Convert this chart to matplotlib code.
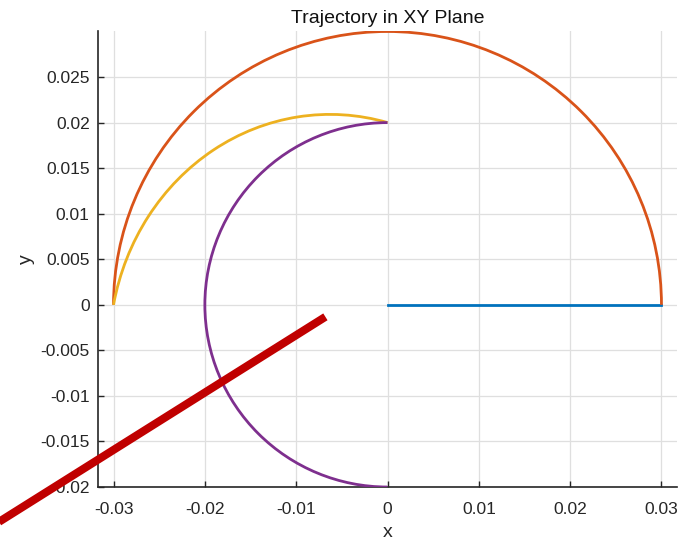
import matplotlib
matplotlib.use('Agg')
import matplotlib.pyplot as plt
from matplotlib.patches import Arc
from matplotlib.ticker import FormatStrFormatter

plt.rcParams['font.family'] = ['Liberation Sans', 'DejaVu Sans']

# straight segment (blue)
line_x = [0.0, 0.03]
line_y = [0.0, 0.0]

# arcs: centre, x/y half-axes, start/end angle (deg, seen from the centre)
orange_center = (0.0, 0.0)
orange_axes = (0.03, 0.03)
orange_angles = (0, 180)

yellow_center = (-0.0063, -0.005)
yellow_axes = (0.024155, 0.0259)
yellow_angles = (75.86, 168.09)

purple_center = (0.0, 0.0)
purple_axes = (0.02, 0.02)
purple_angles = (90, 270)

# red annotation stroke drawn over the chart
red_x = [-0.0068, -0.046]
red_y = [-0.00132, -0.0260]

xticks = [-0.03, -0.02, -0.01, 0, 0.01, 0.02, 0.03]
yticks = [-0.02, -0.015, -0.01, -0.005, 0, 0.005, 0.01, 0.015, 0.02, 0.025]

c_blue = '#0072BD'
c_orange = '#D95319'
c_yellow = '#EDB120'
c_purple = '#7E2F8E'
c_axis = '#262626'


def add_arc(ax, center, axes, angles, color, z):
    ax.add_patch(Arc(center, 2 * axes[0], 2 * axes[1],
                     theta1=angles[0], theta2=angles[1],
                     color=color, lw=2, zorder=z))


fig = plt.figure(figsize=(6.83, 5.43), dpi=100)
ax = fig.add_axes([0.1435, 0.1031, 0.8477, 0.8389])

ax.plot(line_x, line_y, color=c_blue, lw=2, zorder=3)
add_arc(ax, orange_center, orange_axes, orange_angles, c_orange, 3)
add_arc(ax, yellow_center, yellow_axes, yellow_angles, c_yellow, 4)
add_arc(ax, purple_center, purple_axes, purple_angles, c_purple, 5)

ax.plot(red_x, red_y, color='#C00000', lw=5.8, solid_capstyle='butt',
        clip_on=False, zorder=10)

ax.set_xlim(-0.0317, 0.0317)
ax.set_ylim(-0.02, 0.03)
ax.set_xticks(xticks)
ax.set_yticks(yticks)
ax.xaxis.set_major_formatter(FormatStrFormatter('%g'))
ax.yaxis.set_major_formatter(FormatStrFormatter('%g'))

ax.grid(True, color='#DFDFDF', lw=0.9)
ax.set_axisbelow(True)
for s in ['top', 'right']:
    ax.spines[s].set_visible(False)
for s in ['left', 'bottom']:
    ax.spines[s].set_color(c_axis)
    ax.spines[s].set_linewidth(1.2)
ax.tick_params(direction='in', length=4, width=1, color=c_axis,
               labelcolor=c_axis, labelsize=12.5)
ax.tick_params(axis='x', pad=11)
ax.tick_params(axis='y', pad=6)

ax.set_title('Trajectory in XY Plane', fontsize=14, color='#111111', pad=6)
ax.set_xlabel('x', fontsize=14, color=c_axis, labelpad=5)
ax.set_ylabel('y', fontsize=14, color=c_axis, labelpad=4)

fig.savefig('out.png', dpi=100)
